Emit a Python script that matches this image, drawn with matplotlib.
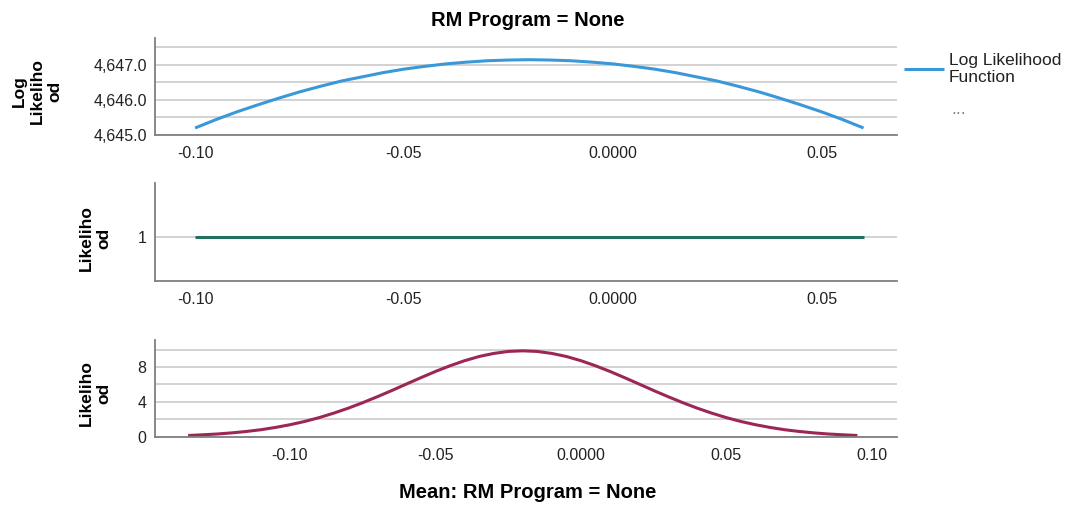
import matplotlib
matplotlib.use('Agg')
import matplotlib.pyplot as plt
from matplotlib.ticker import FuncFormatter, MultipleLocator, FixedLocator

plt.rcParams['font.family'] = ['Liberation Sans', 'DejaVu Sans']

# Log likelihood of the mean
ll_mean = [-0.100, -0.095, -0.090, -0.085, -0.080, -0.075, -0.070, -0.065,
           -0.060, -0.055, -0.050, -0.045, -0.040, -0.035, -0.030, -0.025,
           -0.020, -0.015, -0.010, -0.005, 0.000, 0.005, 0.010, 0.015,
           0.020, 0.025, 0.030, 0.035, 0.040, 0.045, 0.050, 0.055, 0.060]
ll_value = [4645.20, 4645.44, 4645.66, 4645.86, 4646.05, 4646.23, 4646.39, 4646.54,
            4646.66, 4646.78, 4646.88, 4646.96, 4647.03, 4647.08, 4647.12, 4647.14,
            4647.15, 4647.14, 4647.12, 4647.08, 4647.03, 4646.96, 4646.88, 4646.78,
            4646.66, 4646.54, 4646.39, 4646.23, 4646.05, 4645.86, 4645.66, 4645.44, 4645.20]

# Likelihood shown on the middle panel
flat_mean = [-0.100, -0.060, -0.020, 0.020, 0.060]
flat_value = [1, 1, 1, 1, 1]

# Likelihood (density) of the mean
lik_mean = [-0.135, -0.130, -0.125, -0.120, -0.115, -0.110, -0.105, -0.100,
            -0.095, -0.090, -0.085, -0.080, -0.075, -0.070, -0.065, -0.060,
            -0.055, -0.050, -0.045, -0.040, -0.035, -0.030, -0.025, -0.020,
            -0.015, -0.010, -0.005, 0.000, 0.005, 0.010, 0.015, 0.020,
            0.025, 0.030, 0.035, 0.040, 0.045, 0.050, 0.055, 0.060,
            0.065, 0.070, 0.075, 0.080, 0.085, 0.090, 0.095]
lik_value = [0.17, 0.25, 0.34, 0.47, 0.63, 0.83, 1.09, 1.40,
             1.77, 2.21, 2.72, 3.29, 3.92, 4.60, 5.31, 6.05,
             6.78, 7.49, 8.14, 8.72, 9.20, 9.55, 9.78, 9.85,
             9.78, 9.55, 9.20, 8.72, 8.14, 7.49, 6.78, 6.05,
             5.31, 4.60, 3.92, 3.29, 2.72, 2.21, 1.77, 1.40,
             1.09, 0.83, 0.63, 0.47, 0.34, 0.25, 0.17]

top_xticks = [-0.10, -0.05, 0.0, 0.05]
bottom_xticks = [-0.10, -0.05, 0.0, 0.05, 0.10]

BLUE = '#3a98d8'
TEAL = '#22705e'
MAROON = '#9c2656'
GRID = '#d2d2d2'
SPINE = '#7f7f7f'
TEXT = '#222222'


def fmt_x(v, pos=0):
    if abs(v) < 1e-9:
        return '0.0000'
    return '%.2f' % v


def style_axis(ax):
    for side in ['top', 'right']:
        ax.spines[side].set_visible(False)
    for side in ['left', 'bottom']:
        ax.spines[side].set_color(SPINE)
        ax.spines[side].set_linewidth(1.3)
    ax.tick_params(which='both', length=0, labelsize=11.5, colors=TEXT)
    ax.tick_params(axis='x', pad=8)
    ax.tick_params(axis='y', pad=6)
    ax.xaxis.set_major_formatter(FuncFormatter(fmt_x))
    ax.grid(True, axis='y', which='both', color=GRID, lw=1.4)
    ax.set_axisbelow(True)


fig = plt.figure(figsize=(10.83, 5.05), dpi=100)
left, width = 0.1431, 0.6851
ax1 = fig.add_axes([left, 0.7327, width, 0.1921])
ax2 = fig.add_axes([left, 0.4436, width, 0.1940])
ax3 = fig.add_axes([left, 0.1347, width, 0.1921])

# Top: log likelihood
line, = ax1.plot(ll_mean, ll_value, color=BLUE, lw=2.2, solid_capstyle='butt')
ax1.set_xlim(-0.1096, 0.068)
ax1.set_ylim(4645.0, 4647.77)
ax1.yaxis.set_major_locator(FixedLocator([4645.0, 4646.0, 4647.0]))
ax1.yaxis.set_minor_locator(MultipleLocator(0.5))
ax1.yaxis.set_major_formatter(FuncFormatter(lambda v, p: '{:,.1f}'.format(v)))
ax1.set_xticks(top_xticks)
style_axis(ax1)

# Middle: likelihood held at 1
ax2.plot(flat_mean, flat_value, color=TEAL, lw=2.2, solid_capstyle='butt')
ax2.set_xlim(-0.1096, 0.068)
ax2.set_ylim(0.55, 1.55)
ax2.set_yticks([1])
ax2.set_xticks(top_xticks)
style_axis(ax2)

# Bottom: likelihood density
ax3.plot(lik_mean, lik_value, color=MAROON, lw=2.2, solid_capstyle='butt')
ax3.set_xlim(-0.1464, 0.1086)
ax3.set_ylim(0, 11.09)
ax3.yaxis.set_major_locator(FixedLocator([0, 4, 8]))
ax3.yaxis.set_minor_locator(MultipleLocator(2))
ax3.yaxis.set_major_formatter(FuncFormatter(lambda v, p: '%d' % v))
ax3.set_xticks(bottom_xticks)
style_axis(ax3)

# Titles and axis labels
fig.text(0.487, 0.960, 'RM Program = None', ha='center', va='center',
         fontsize=14.5, fontweight='bold', color='black')
fig.text(0.487, 0.024, 'Mean: RM Program = None', ha='center', va='center',
         fontsize=14.5, fontweight='bold', color='black')

lab = dict(rotation=90, ha='center', va='center', multialignment='center',
           fontsize=12.5, fontweight='bold', color='black', linespacing=1.2)
fig.text(37 / 1083, 1 - 91 / 505, 'Log\nLikeliho\nod', **lab)
fig.text(95 / 1083, 1 - 238 / 505, 'Likeliho\nod', **lab)
fig.text(95 / 1083, 1 - 393 / 505, 'Likeliho\nod', **lab)

# Legend
leg = fig.legend(handles=[line], labels=['Log Likelihood\nFunction'],
                 loc='upper left', bbox_to_anchor=(897 / 1083, 1 - 46 / 505),
                 frameon=False, fontsize=12.5, handlelength=2.3,
                 handletextpad=0.3, borderaxespad=0, labelspacing=0)
for t in leg.get_texts():
    t.set_color(TEXT)
fig.text(951 / 1083, 1 - 110 / 505, '...', ha='left', va='center',
         fontsize=13, color='#888888')

fig.savefig('out.png', dpi=100)
